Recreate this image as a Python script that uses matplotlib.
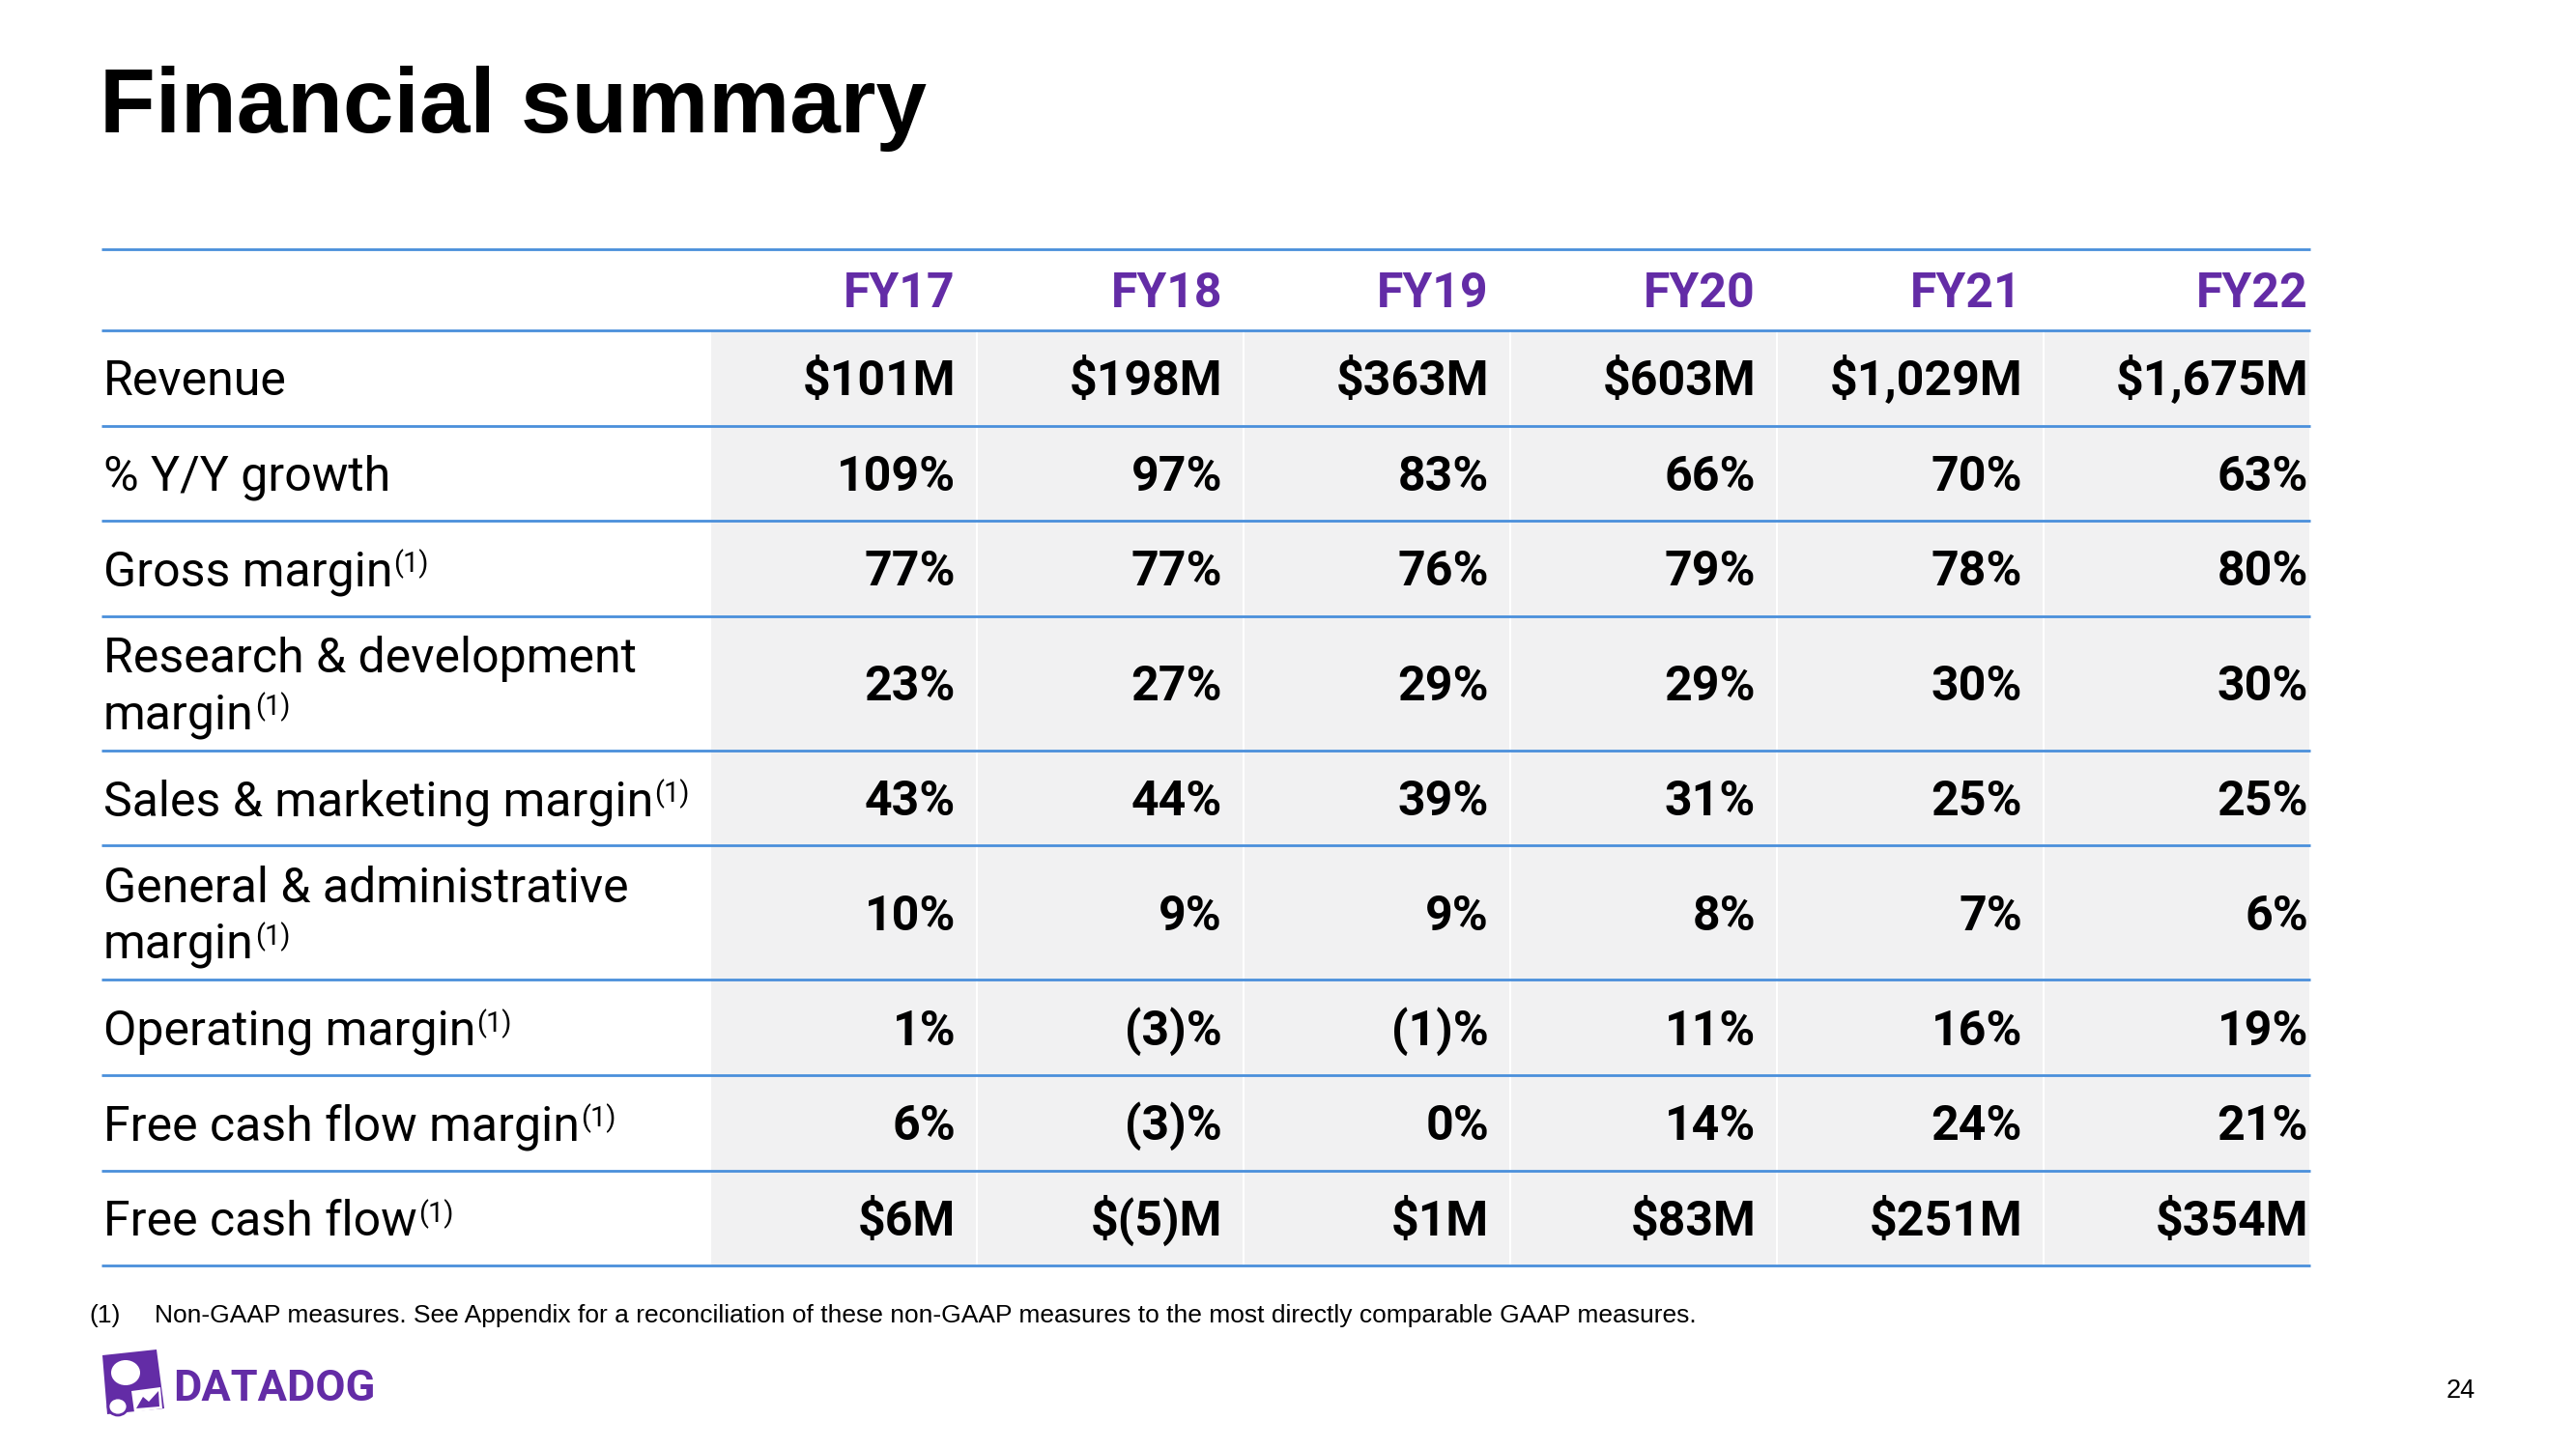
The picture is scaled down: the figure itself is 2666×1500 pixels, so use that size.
import matplotlib
matplotlib.use('Agg')
import matplotlib.pyplot as plt
from matplotlib.patches import Rectangle, Polygon, Ellipse

# table data
years = ['FY17', 'FY18', 'FY19', 'FY20', 'FY21', 'FY22']
revenue_m = [101, 198, 363, 603, 1029, 1675]
yoy_growth = [109, 97, 83, 66, 70, 63]
gross_margin = [77, 77, 76, 79, 78, 80]
rd_margin = [23, 27, 29, 29, 30, 30]
sm_margin = [43, 44, 39, 31, 25, 25]
ga_margin = [10, 9, 9, 8, 7, 6]
op_margin = [1, -3, -1, 11, 16, 19]
fcf_margin = [6, -3, 0, 14, 24, 21]
fcf_m = [6, -5, 1, 83, 251, 354]

row_labels = ['Revenue', '% Y/Y growth', 'Gross margin',
              'Research & development\nmargin', 'Sales & marketing margin',
              'General & administrative\nmargin', 'Operating margin',
              'Free cash flow margin', 'Free cash flow']
non_gaap = [False, False, True, True, True, True, True, True, True]

footnote = ('Non-GAAP measures. See Appendix for a reconciliation of these '
            'non-GAAP measures to the most directly comparable GAAP measures.')


def pct(v):
    return f'{v}%' if v >= 0 else f'({-v})%'


def usd(v):
    return f'${v:,}M' if v >= 0 else f'$({-v:,})M'


rows = [[usd(v) for v in revenue_m],
        [pct(v) for v in yoy_growth],
        [pct(v) for v in gross_margin],
        [pct(v) for v in rd_margin],
        [pct(v) for v in sm_margin],
        [pct(v) for v in ga_margin],
        [pct(v) for v in op_margin],
        [pct(v) for v in fcf_margin],
        [usd(v) for v in fcf_m]]

PURPLE = '#632CA6'
BLUE = '#4A8FDB'
SHADE = '#F1F1F2'
TABLE_FONT = ['Roboto', 'DejaVu Sans']
SLIDE_FONT = ['Liberation Sans', 'DejaVu Sans']

W, H = 2666, 1500
fig = plt.figure(figsize=(W / 100, H / 100), dpi=100)
ax = fig.add_axes([0, 0, 1, 1])
ax.set_xlim(0, W)
ax.set_ylim(H, 0)
ax.axis('off')

# title
ax.text(103, 137, 'Financial summary', fontsize=68, fontweight='bold',
        family=SLIDE_FONT, va='baseline', ha='left', color='black')

# layout
left = 105
label_end = 735
col_w = 276
right = label_end + len(years) * col_w
header_top = 258
header_h = 84
single_h = 98.6
double_h = 139
pads = [22, 22, 22, 22, 22, 2]
fs = 36
half_cap = 18

ys = [header_top, header_top + header_h]
for lab in row_labels:
    ys.append(ys[-1] + (double_h if '\n' in lab else single_h))

# header
hc = header_top + header_h / 2
for j, yr in enumerate(years):
    ax.text(label_end + (j + 1) * col_w - pads[j], hc + half_cap, yr,
            fontsize=fs, fontweight='bold', color=PURPLE, family=TABLE_FONT,
            ha='right', va='baseline')

renderer = fig.canvas.get_renderer()

for i, (lab, vals) in enumerate(zip(row_labels, rows)):
    y0, y1 = ys[i + 1], ys[i + 2]
    yc = (y0 + y1) / 2
    for j, v in enumerate(vals):
        ax.add_patch(Rectangle((label_end + j * col_w, y0), col_w, y1 - y0,
                               facecolor=SHADE, edgecolor='white', lw=1.5, zorder=1))
        ax.text(label_end + (j + 1) * col_w - pads[j], yc + half_cap, v,
                fontsize=fs, fontweight='bold', color='black', family=TABLE_FONT,
                ha='right', va='baseline', zorder=3)
    lines = lab.split('\n')
    if len(lines) == 2:
        bases = [yc - 29 + half_cap, yc + 29 + half_cap]
    else:
        bases = [yc + half_cap]
    t = None
    for ln, b in zip(lines, bases):
        t = ax.text(107, b, ln, fontsize=fs, color='black', family=TABLE_FONT,
                    ha='left', va='baseline', zorder=3)
    if non_gaap[i]:
        bb = t.get_window_extent(renderer)
        ax.text(bb.x1 + 1, bases[-1] - 14, '(1)', fontsize=21, color='black',
                family=TABLE_FONT, ha='left', va='baseline', zorder=3)

ax.hlines(ys, left, right, colors=BLUE, lw=2, zorder=4)

# footnote
ax.text(92, 1369, '(1)', fontsize=19, family=SLIDE_FONT, va='baseline', color='black')
ax.text(160, 1369, footnote, fontsize=19, family=SLIDE_FONT, va='baseline', color='black')

# page number
ax.text(2562, 1447, '24', fontsize=19.5, family=SLIDE_FONT, ha='right',
        va='baseline', color='black')

# logo
ax.add_patch(Polygon([(106, 1403), (162, 1397), (170, 1458), (111, 1464)],
                     closed=True, facecolor=PURPLE, edgecolor='none'))
ax.add_patch(Ellipse((130, 1421), 30, 26, facecolor='white', edgecolor='none'))
ax.add_patch(Polygon([(136, 1440), (166, 1436), (168, 1458), (139, 1462)],
                     closed=True, facecolor='white', edgecolor='none'))
ax.add_patch(Polygon([(141, 1458), (148, 1446), (154, 1451), (164, 1440), (165, 1456)],
                     closed=True, facecolor=PURPLE, edgecolor='none'))
ax.add_patch(Ellipse((122, 1456), 20, 18, facecolor='white', edgecolor=PURPLE, lw=2))
ax.text(179, 1450, 'DATADOG', fontsize=32.5, fontweight='bold', color=PURPLE,
        family=TABLE_FONT, ha='left', va='baseline')

fig.savefig('out.png', dpi=100)
